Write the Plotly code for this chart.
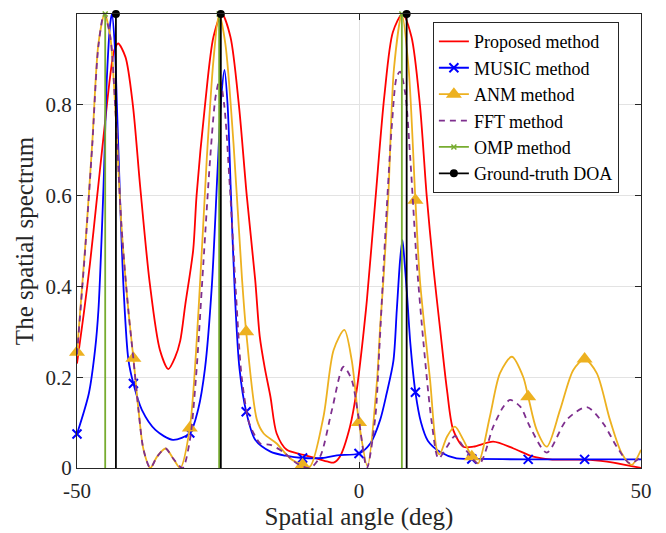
import plotly.graph_objects as go

# ---------------- data ----------------
prop_x = [-50, -48.8, -47.7, -46.5, -45.3, -44.1, -43.4, -42.7, -41.4, -40.1, -38.8, -37.1, -35.3,
          -33.8, -32.6, -31.7, -30.8, -29.4, -28.8, -27.3, -25.8, -24.3, -22.8, -21.3, -19.9,
          -18.4, -17.6, -16.7, -15.7, -14.6, -12.8, -9.8, -7.5, -5.5, -4.5, -3.4, -1.6, -0.4,
          0.8, 1.4, 2.9, 4.5, 6.0, 7.7, 9.3, 10.8, 12.0, 13.2, 14.4, 15.6, 16.7, 18.5, 20.3,
          23.8, 27.4, 30.9, 33.9, 41.0, 45.1, 50]
prop_y = [0.23, 0.34, 0.45, 0.59, 0.73, 0.865, 0.92, 0.935, 0.905, 0.80, 0.62, 0.407, 0.26,
          0.218, 0.244, 0.28, 0.36, 0.48, 0.60, 0.80, 0.95, 1.0, 0.95, 0.80, 0.60,
          0.414, 0.29, 0.22, 0.157, 0.076, 0.040, 0.029, 0.021, 0.014, 0.012, 0.025, 0.091, 0.172,
          0.297, 0.37, 0.59, 0.82, 0.96, 1.0, 0.95, 0.80, 0.60, 0.44, 0.304, 0.172, 0.084, 0.047, 0.047,
          0.058, 0.043, 0.025, 0.019, 0.018, 0.012, 0.0]

music_x = [-50, -47.9, -46.8, -46.2, -45.3, -44.7, -44.1, -43.8, -43.3, -42.9, -42.3, -41.7,
           -40.9, -40, -38.5, -36.1, -33, -30, -28.5, -27.3, -26.1, -25.1, -24.4, -23.85,
           -23.3, -22.7, -22.0, -21.2, -20, -18.4, -15.7, -13, -10, -6.5, -3.9, 0, 2.0, 3.75,
           4.9, 6.1, 6.7, 7.3, 7.7, 8.1, 8.5, 9.1, 10, 11, 12.2, 14.4, 17.3, 20, 30, 40, 50]
music_y = [0.075, 0.164, 0.26, 0.348, 0.62, 0.86, 0.98, 1.0, 0.93, 0.79, 0.57, 0.385,
           0.24, 0.186, 0.128, 0.084, 0.062, 0.077, 0.13, 0.22, 0.40, 0.65, 0.82, 0.877,
           0.80, 0.60, 0.38, 0.22, 0.124, 0.062, 0.036, 0.027, 0.022, 0.022, 0.028, 0.032, 0.054, 0.106,
           0.164, 0.236, 0.348, 0.46, 0.502, 0.45, 0.385, 0.275, 0.167, 0.10, 0.06, 0.035, 0.021, 0.02,
           0.019, 0.019, 0.019]

anm_x = [-50, -48.5, -47.3, -46.2, -45.1, -44.1, -43.2, -42.1, -40.9, -40, -39.1, -38.2, -37.0,
         -35.8, -34.3, -32.9, -31.7, -30, -28.45, -27.0, -25.8, -24.8, -23.7, -22.25, -20.76,
         -20, -18.1, -16.9, -14.6, -12.2, -10, -8.7, -6.3, -4.5, -2.6, -1.3, 0, 1.5, 3.16, 3.75,
         4.33, 5.2, 6.2, 7.6, 8.8, 10, 10.8, 12.6, 13.8, 14.3, 15.6, 17.0, 18.5, 20, 21.1, 23.2,
         25, 27.1, 29.1, 30, 31.5, 33.3, 35.65, 38, 40, 42.15, 44.5, 46.6, 48.35, 50]
anm_y = [0.255, 0.495, 0.715, 0.935, 1.0, 0.95, 0.79, 0.53, 0.348, 0.242, 0.128, 0.04, 0.0,
         0.025, 0.043, 0.02, 0.0, 0.088, 0.348, 0.679, 0.899, 1.0, 0.935, 0.715, 0.42,
         0.30, 0.106, 0.076, 0.054, 0.021, 0.007, 0.003, 0.113, 0.26, 0.304, 0.238, 0.10, 0.004, 0.187, 0.311,
         0.414, 0.60, 0.88, 1.0, 0.88, 0.59, 0.414, 0.194, 0.04, 0.03, 0.069, 0.091, 0.062, 0.025, 0.01, 0.113,
         0.209, 0.245, 0.201, 0.157, 0.084, 0.047, 0.128, 0.216, 0.24, 0.209, 0.106, 0.032, 0.007, 0.04]

fft_x = [-50, -48.5, -47.3, -46.2, -45.2, -44.1, -43.2, -42.1, -40.9, -40, -39.1, -38.2, -37.0,
         -35.8, -34.3, -32.9, -31.3, -30, -28.9, -27.6, -26.4, -25.4, -24.7, -23.9, -22.9, -21.8,
         -20.8, -19.5, -18.4, -17.5, -15.7, -13.4, -11, -8.7, -6.9, -4.8, -2.75, -1.3, -0.1, 1.4,
         2.9, 3.6, 4.6, 5.8, 6.7, 7.3, 8.2, 9.1, 10.25, 11.4, 12.9, 14.1, 15.6, 17.0, 18.5, 21.3,
         23.8, 25.6, 26.8, 28.6, 30.3, 33.3, 36.8, 40.4, 43.3, 45.7, 48.05, 50]
fft_y = [0.25, 0.49, 0.71, 0.93, 1.0, 0.95, 0.79, 0.53, 0.348, 0.24, 0.128, 0.04, 0.0,
         0.025, 0.043, 0.02, 0.0, 0.06, 0.20, 0.45, 0.68, 0.82, 0.855, 0.80, 0.62, 0.38,
         0.20, 0.10, 0.07, 0.054, 0.051, 0.035, 0.01, 0.0, 0.025, 0.128, 0.223, 0.194, 0.113, 0.0,
         0.113, 0.26, 0.50, 0.75, 0.862, 0.873, 0.825, 0.68, 0.45, 0.28, 0.10, 0.021, 0.047, 0.07, 0.047, 0.009,
         0.091, 0.135, 0.15, 0.135, 0.091, 0.034, 0.106, 0.134, 0.098, 0.047, 0.01, 0.025]

# markers are shown every 10 degrees from -50 to 40
marker_angles = [-50, -40, -30, -20, -10, 0, 10, 20, 30, 40]

omp_angles = [-45.0, -24.8, 7.6]
omp_heights = [1, 1, 1]
gt_angles = [-43.1, -24.5, 8.45]
gt_heights = [1, 1, 1]

x_ticks = [-50, 0, 50]
y_ticks = [0, 0.2, 0.4, 0.6, 0.8, 1]
y_ticktext = ["0", "0.2", "0.4", "0.6", "0.8", "1"]

names = ["Proposed method", "MUSIC method", "ANM method", "FFT method", "OMP method", "Ground-truth DOA"]

# ---------------- styles ----------------
RED = "#FF0000"
BLUE = "#0000FF"
ORANGE = "#EDB120"
PURPLE = "#7E2F8E"
GREEN = "#77AC30"
BLACK = "#000000"
FONT = "Liberation Serif, Times New Roman, serif"
LW = 1.8


def pick(xs, ys, wanted):
    mx, my = [], []
    for a, b in zip(xs, ys):
        if any(abs(a - w) < 1e-9 for w in wanted):
            mx.append(a)
            my.append(b)
    return mx, my


def stems(angles, heights):
    sx, sy = [], []
    for a, h in zip(angles, heights):
        sx += [a, a, None]
        sy += [0, h, None]
    return sx, sy


fig = go.Figure()
spl = dict(shape="spline", smoothing=0.8)

fig.add_trace(go.Scatter(x=prop_x, y=prop_y, mode="lines", line=dict(color=RED, width=LW, **spl),
                         showlegend=False, hoverinfo="skip"))
fig.add_trace(go.Scatter(x=music_x, y=music_y, mode="lines", line=dict(color=BLUE, width=LW, **spl),
                         showlegend=False, hoverinfo="skip"))
mx, my = pick(music_x, music_y, marker_angles)
fig.add_trace(go.Scatter(x=mx, y=my, mode="markers", cliponaxis=False,
                         marker=dict(symbol="x-thin", size=9, line=dict(color=BLUE, width=2)),
                         showlegend=False, hoverinfo="skip"))
fig.add_trace(go.Scatter(x=anm_x, y=anm_y, mode="lines", line=dict(color=ORANGE, width=LW, **spl),
                         showlegend=False, hoverinfo="skip"))
ax_, ay_ = pick(anm_x, anm_y, marker_angles)
fig.add_trace(go.Scatter(x=ax_, y=ay_, mode="markers", cliponaxis=False,
                         marker=dict(symbol="triangle-up", size=14, color=ORANGE),
                         showlegend=False, hoverinfo="skip"))
fig.add_trace(go.Scatter(x=fft_x, y=fft_y, mode="lines",
                         line=dict(color=PURPLE, width=LW, dash="6px,5px", **spl),
                         showlegend=False, hoverinfo="skip"))

sx, sy = stems(omp_angles, omp_heights)
fig.add_trace(go.Scatter(x=sx, y=sy, mode="lines", line=dict(color=GREEN, width=LW), showlegend=False, hoverinfo="skip"))
fig.add_trace(go.Scatter(x=omp_angles, y=omp_heights, mode="markers", cliponaxis=False,
                         marker=dict(symbol="x-thin", size=5, line=dict(color=GREEN, width=1.5)),
                         showlegend=False, hoverinfo="skip"))
sx, sy = stems(gt_angles, gt_heights)
fig.add_trace(go.Scatter(x=sx, y=sy, mode="lines", line=dict(color=BLACK, width=LW), showlegend=False, hoverinfo="skip"))
fig.add_trace(go.Scatter(x=gt_angles, y=gt_heights, mode="markers", cliponaxis=False,
                         marker=dict(symbol="circle", size=8, color=BLACK),
                         showlegend=False, hoverinfo="skip"))

leg = [
    dict(mode="lines", line=dict(color=RED, width=LW)),
    dict(mode="lines+markers", line=dict(color=BLUE, width=LW), marker=dict(symbol="x-thin", size=9, line=dict(color=BLUE, width=2))),
    dict(mode="lines+markers", line=dict(color=ORANGE, width=LW), marker=dict(symbol="triangle-up", size=14, color=ORANGE)),
    dict(mode="lines", line=dict(color=PURPLE, width=LW, dash="6px,5px")),
    dict(mode="lines+markers", line=dict(color=GREEN, width=LW), marker=dict(symbol="x-thin", size=5, line=dict(color=GREEN, width=1.5))),
    dict(mode="lines+markers", line=dict(color=BLACK, width=LW), marker=dict(symbol="circle", size=8, color=BLACK)),
]
for n, kw in zip(names, leg):
    fig.add_trace(go.Scatter(x=[None], y=[None], name=n, showlegend=True, **kw))

axis_common = dict(showline=True, linecolor="#262626", linewidth=1, mirror="allticks",
                   ticks="inside", ticklen=6, tickcolor="#262626", tickwidth=1,
                   showgrid=True, gridcolor="#e3e3e3", gridwidth=1, zeroline=False,
                   automargin=False,
                   tickfont=dict(family=FONT, size=21, color="#262626"))

# the page body adds an 8 px margin, so the figure is 8 px smaller on each axis
fig.update_layout(
    width=658, height=525,
    margin=dict(l=69, r=25, t=6, b=65, autoexpand=False),
    paper_bgcolor="white", plot_bgcolor="white",
    font=dict(family=FONT, color="#262626"),
    xaxis=dict(range=[-50, 50], tickvals=x_ticks, ticktext=[str(v) for v in x_ticks],
               ticklabelstandoff=4,
               title=dict(text="Spatial angle (deg)", font=dict(family=FONT, size=25, color="#262626"), standoff=4),
               **axis_common),
    yaxis=dict(range=[0, 1], tickvals=y_ticks, ticktext=y_ticktext,
               ticklabelstandoff=0,
               title=dict(text="The spatial spectrum", font=dict(family=FONT, size=25, color="#262626"), standoff=4),
               **axis_common),
    legend=dict(x=0.631, y=0.982, xanchor="left", yanchor="top",
                bgcolor="white", bordercolor="#262626", borderwidth=1,
                font=dict(family=FONT, size=18, color="#000000"),
                itemwidth=30, tracegroupgap=0),
    showlegend=True,
)

fig.write_html("out.html")
